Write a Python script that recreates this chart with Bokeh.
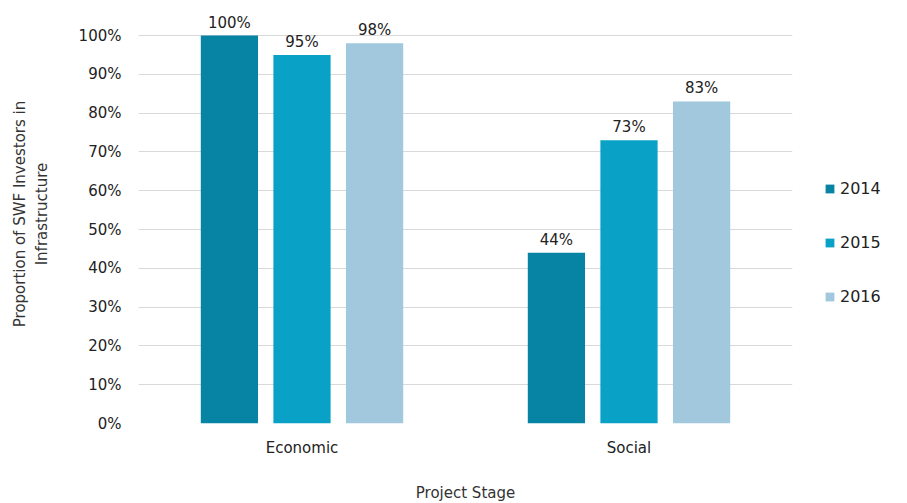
from bokeh.plotting import figure
from bokeh.models import (ColumnDataSource, FactorRange, Range1d, Legend, LegendItem,
                          FixedTicker, PrintfTickFormatter)
from bokeh.transform import dodge
from bokeh.core.properties import value
from bokeh.embed import file_html
from bokeh.resources import INLINE

categories = ["Economic", "Social"]
years = ["2014", "2015", "2016"]
v2014 = [100, 44]
v2015 = [95, 73]
v2016 = [98, 83]
y_ticks = [0, 10, 20, 30, 40, 50, 60, 70, 80, 90, 100]

colors = ["#0784A3", "#09A2C6", "#A1C8DC"]
FONT = "DejaVu Sans"
FS = "15px"

src = ColumnDataSource(dict(cat=categories, v2014=v2014, v2015=v2015, v2016=v2016,
                            l2014=[f"{v}%" for v in v2014],
                            l2015=[f"{v}%" for v in v2015],
                            l2016=[f"{v}%" for v in v2016]))

p = figure(frame_width=654, frame_height=419, x_range=FactorRange(*categories), y_range=Range1d(0, 108),
           output_backend="svg", toolbar_location=None,
           min_border_left=138, min_border_top=4, min_border_bottom=80, min_border_right=115)
p.outline_line_color = None
p.background_fill_color = "white"

offsets = [-0.222, 0.0, 0.222]
renderers = []
for yr, off, col in zip(years, offsets, colors):
    r = p.vbar(x=dodge("cat", off, range=p.x_range), top="v" + yr, width=0.175, source=src,
               fill_color=col, line_color=None)
    renderers.append(r)
    p.text(x=dodge("cat", off, range=p.x_range), y="v" + yr, text="l" + yr, source=src,
           text_align="center", text_baseline="bottom", y_offset=-4,
           text_font=value(FONT), text_font_size=FS, text_color="#222222")

p.yaxis.ticker = FixedTicker(ticks=y_ticks)
p.yaxis.formatter = PrintfTickFormatter(format="%d%%")
p.ygrid.ticker = FixedTicker(ticks=y_ticks)
p.ygrid.grid_line_color = "#D9D9D9"
p.xgrid.grid_line_color = None
for ax in (p.xaxis[0], p.yaxis[0]):
    ax.axis_line_color = None
    ax.major_tick_line_color = None
    ax.minor_tick_line_color = None
    ax.major_label_text_font = FONT
    ax.major_label_text_font_size = FS
    ax.major_label_text_color = "#222222"
    ax.axis_label_text_font = FONT
    ax.axis_label_text_font_size = FS
    ax.axis_label_text_font_style = "normal"
    ax.axis_label_text_color = "#333333"
p.yaxis.major_label_standoff = 11
p.xaxis.major_label_standoff = 9
p.yaxis.axis_label = "Proportion of SWF Investors in\nInfrastructure"
p.yaxis.axis_label_standoff = 25
p.xaxis.axis_label = "Project Stage"
p.xaxis.axis_label_standoff = 24

legend = Legend(items=[LegendItem(label=yr, renderers=[r]) for yr, r in zip(years, renderers)],
                label_text_font=FONT, label_text_font_size="16px", label_text_color="#222222",
                glyph_width=11, glyph_height=11, spacing=35, border_line_color=None,
                background_fill_alpha=0, padding=0, margin=0, label_standoff=5,
                location=(32, 117))
p.add_layout(legend, "right")

open("out.html", "w").write(file_html(p, INLINE))
